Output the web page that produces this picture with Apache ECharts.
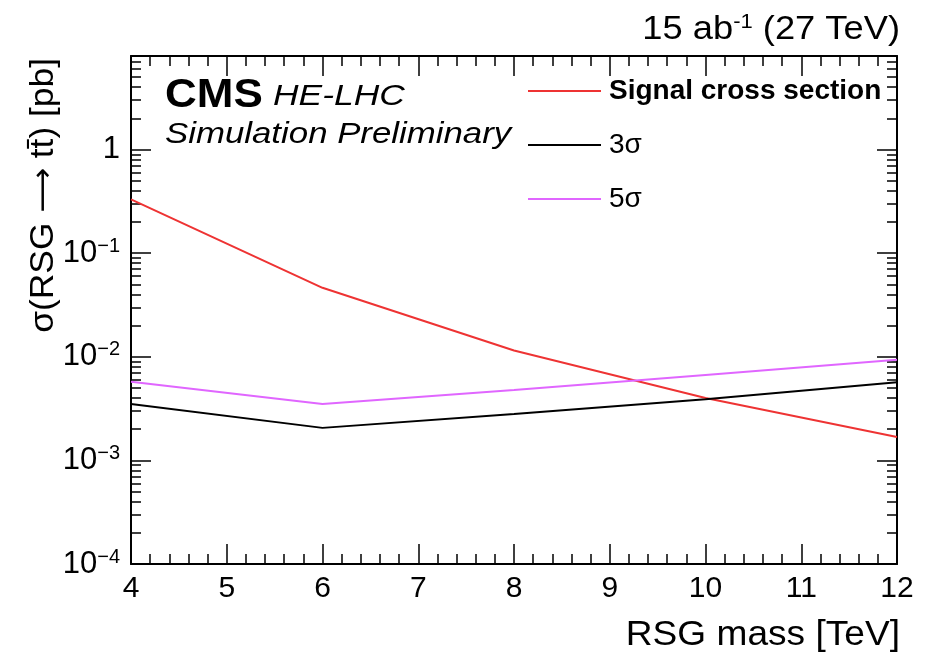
<!DOCTYPE html>
<html><head><meta charset="utf-8">
<script src="https://cdn.jsdelivr.net/npm/echarts@6/dist/echarts.min.js"></script>
<style>html,body{margin:0;padding:0;background:#fff}#c{width:938px;height:655px}</style>
</head><body><div id="c"></div>
<script>
const masses = [4, 6, 8, 10, 12];
const signalXsec = [0.33, 0.0463, 0.0115, 0.0040, 0.00168];
const sigma3 = [0.0035, 0.00206, 0.0028, 0.0039, 0.00567];
const sigma5 = [0.00575, 0.0035, 0.00478, 0.00668, 0.00935];
const seriesNames = ['Signal cross section', '3σ', '5σ'];
const xMin = 4, xMax = 12, yMin = 1e-4, yMax = 8;

const FONT = 'Liberation Sans, Arial, Helvetica, sans-serif';
const pairs = arr => masses.map((m, i) => [m, arr[i]]);

function yLabel(v) {
  const l = Math.log10(v), e = Math.round(l);
  if (Math.abs(l - e) > 1e-6) return '';
  if (e === 0) return '{b|1}';
  return '{b|10}{s|' + (e < 0 ? '−' : '') + Math.abs(e) + '}';
}

const tickCommon = (len) => ({show: true, inside: true, length: len, lineStyle: {color: '#000', width: 1.5}});
const xAxisBase = {
  type: 'value', min: xMin, max: xMax, interval: 1,
  axisLine: {show: true, onZero: false, lineStyle: {color: '#000', width: 2}},
  axisTick: tickCommon(20),
  minorTick: {show: true, splitNumber: 5, length: 10, lineStyle: {color: '#000', width: 1.5}},
  splitLine: {show: false}
};
const yAxisBase = {
  type: 'log', logBase: 10, min: yMin, max: yMax,
  axisLine: {show: true, onZero: false, lineStyle: {color: '#000', width: 2}},
  axisTick: tickCommon(20),
  minorTick: {show: true, splitNumber: 9, length: 10, lineStyle: {color: '#000', width: 1.5}},
  splitLine: {show: false}
};

const chart = echarts.init(document.getElementById('c'), null, {renderer: 'canvas'});
chart.setOption({
  animation: false,
  backgroundColor: '#fff',
  grid: {left: 131, right: 41, top: 56, bottom: 91, containLabel: false},
  xAxis: [
    Object.assign({}, xAxisBase, {position: 'bottom',
      axisLabel: {show: true, margin: 10, fontFamily: FONT, fontSize: 30, color: '#000'}}),
    Object.assign({}, xAxisBase, {position: 'top', axisLabel: {show: false}})
  ],
  yAxis: [
    Object.assign({}, yAxisBase, {position: 'left',
      axisLabel: {show: true, margin: 11, formatter: yLabel, color: '#000',
        rich: {b: {fontFamily: FONT, fontSize: 31, color: '#000', lineHeight: 34},
               s: {fontFamily: FONT, fontSize: 20, color: '#000', verticalAlign: 'top', lineHeight: 20}}}}),
    Object.assign({}, yAxisBase, {position: 'right', axisLabel: {show: false}})
  ],
  legend: {
    orient: 'vertical', left: 523, top: 71, itemWidth: 73, itemHeight: 2, itemGap: 24,
    icon: 'rect', selectedMode: false,
    textStyle: {fontFamily: FONT, fontSize: 28, color: '#000', lineHeight: 30, padding: [0, 0, 0, 3]},
    data: [
      {name: seriesNames[0], textStyle: {fontWeight: 'bold'}},
      {name: seriesNames[1]},
      {name: seriesNames[2]}
    ]
  },
  series: [
    {name: seriesNames[0], type: 'line', data: pairs(signalXsec), symbol: 'none',
      lineStyle: {color: '#ee3333', width: 2}, itemStyle: {color: '#ee3333'}},
    {name: seriesNames[1], type: 'line', data: pairs(sigma3), symbol: 'none',
      lineStyle: {color: '#000000', width: 2}, itemStyle: {color: '#000000'}},
    {name: seriesNames[2], type: 'line', data: pairs(sigma5), symbol: 'none',
      lineStyle: {color: '#e066ff', width: 2}, itemStyle: {color: '#e066ff'}}
  ],
  graphic: [
    {type: 'text', x: 900, y: 30, scaleX: 1.1, style: {
      text: '{a|15 ab}{s|-1}{a| (27 TeV)}', align: 'right', verticalAlign: 'middle',
      rich: {a: {fontFamily: FONT, fontSize: 33, fill: '#000', lineHeight: 36},
             s: {fontFamily: FONT, fontSize: 20, fill: '#000', verticalAlign: 'top', lineHeight: 20}}}},
    {type: 'text', x: 165, y: 96, scaleX: 1.1, style: {text: 'CMS', font: 'bold 40px ' + FONT, fill: '#000', align: 'left', verticalAlign: 'middle'}},
    {type: 'text', x: 273, y: 97, scaleX: 1.18, style: {text: 'HE-LHC', font: 'italic 30px ' + FONT, fill: '#000', align: 'left', verticalAlign: 'middle'}},
    {type: 'text', x: 165, y: 135, scaleX: 1.16, style: {text: 'Simulation Preliminary', font: 'italic 30px ' + FONT, fill: '#000', align: 'left', verticalAlign: 'middle'}},
    {type: 'text', x: 900, y: 635, scaleX: 1.06, style: {text: 'RSG mass [TeV]', font: '35px ' + FONT, fill: '#000', align: 'right', verticalAlign: 'middle'}},
    {type: 'text', x: 44, y: 58, rotation: Math.PI / 2, scaleX: 1.04, style: {
      text: '{a|σ(RSG }{r|⟶}{a| tt̄) [pb]}', align: 'right', verticalAlign: 'middle',
      rich: {a: {fontFamily: FONT, fontSize: 34, fill: '#000', lineHeight: 36},
             r: {fontFamily: 'DejaVu Sans', fontSize: 30, fill: '#000', lineHeight: 36}}}}
  ]
});
</script></body></html>
